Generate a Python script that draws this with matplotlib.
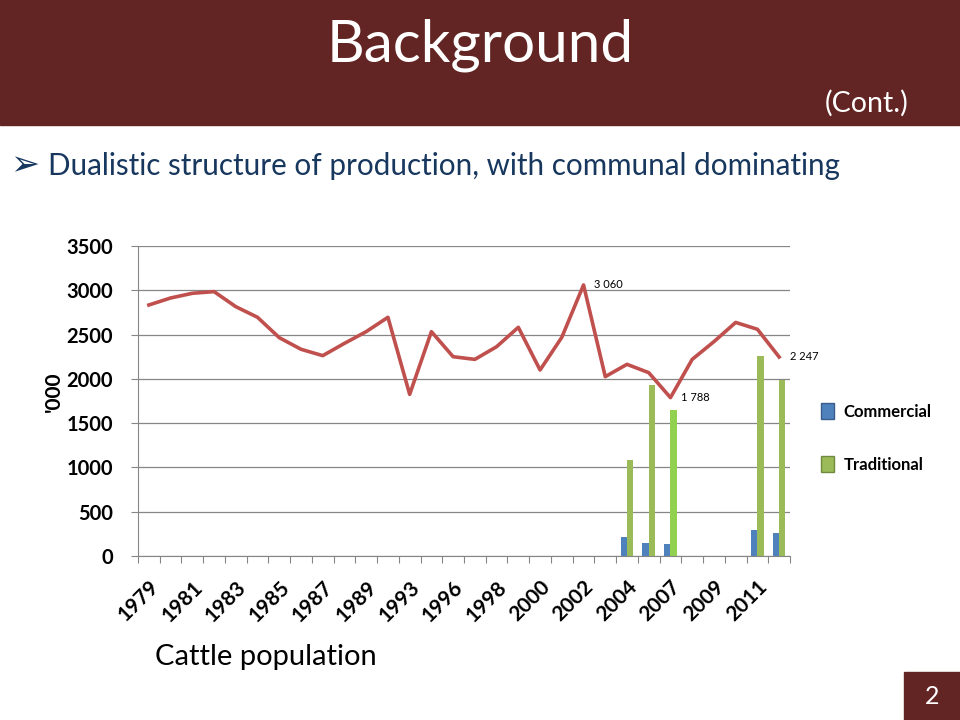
import numpy as np
import matplotlib.pyplot as plt
from matplotlib.patches import Rectangle, Patch

plt.rcParams['font.family'] = ['Lato', 'DejaVu Sans']

# --- Dane ---
years = ["1979", "1980", "1981", "1982", "1983", "1984", "1985", "1986", "1987", "1988",
         "1989", "1991", "1993", "1995", "1996", "1997", "1998", "1999", "2000", "2001",
         "2002", "2003", "2004", "2006", "2007", "2008", "2009", "2010", "2011", "2012"]
total = [2834, 2913, 2966, 2985, 2815, 2695, 2465, 2334, 2262, 2401,
         2533, 2695, 1825, 2533, 2250, 2220, 2363, 2582, 2100, 2469,
         3060, 2025, 2164, 2070, 1788, 2220, 2420, 2637, 2560, 2247]
bar_years = ["2004", "2006", "2007", "2011", "2012"]
commercial = [214, 151, 139, 294, 260]
traditional = [1084, 1931, 1648, 2258, 1987]
labelled = {"2002": "3 060", "2007": "1 788", "2012": "2 247"}

red = "#632523"
navy = "#17375E"

fig = plt.figure(figsize=(9.6, 7.2), dpi=100)

# --- Nagłówek ---
fig.patches.append(Rectangle((0, 1 - 125 / 720), 1, 125 / 720, transform=fig.transFigure,
                             color=red, zorder=0))
fig.text(0.5, 1 - 45 / 720, "Background", color="white", fontsize=42,
         ha="center", va="center")
fig.text(908 / 960, 1 - 103 / 720, "(Cont.)", color="white", fontsize=20.5,
         ha="right", va="center")
fig.text(10 / 960, 1 - 165 / 720, "➢", color=navy, fontsize=25, ha="left", va="center",
         family=["DejaVu Sans"])
fig.text(48 / 960, 1 - 166 / 720, "Dualistic structure of production, with communal dominating",
         color=navy, fontsize=21.3, ha="left", va="center")
fig.text(155 / 960, 1 - 657 / 720, "Cattle population", color="black", fontsize=21,
         ha="left", va="center")

# numer slajdu
fig.patches.append(Rectangle((904 / 960, 0), 56 / 960, 48 / 720, transform=fig.transFigure,
                             color=red, zorder=0))
fig.text(932 / 960, 24 / 720, "2", color="white", fontsize=18, ha="center", va="center")

# --- Wykres ---
ax = fig.add_axes([138 / 960, 1 - 556 / 720, 652 / 960, 310 / 720])
x = np.arange(len(years))
bx = np.array([years.index(y) for y in bar_years])
w = 0.29
ax.bar(bx - w / 2, commercial, width=w, color="#4F81BD", zorder=2)
green_cols = ["#9BBB59" if y != "2007" else "#92D050" for y in bar_years]
ax.bar(bx + w / 2, traditional, width=w, color=green_cols, zorder=2)
ax.plot(x, total, color="#C0504D", linewidth=2.6, zorder=3)

for y, txt in labelled.items():
    i = years.index(y)
    ax.annotate(txt, (i, total[i]), xytext=(7.5, 0), textcoords="offset points",
                fontsize=8, ha="left", va="center")

ax.set_xlim(-0.5, len(years) - 0.5)
ax.set_ylim(0, 3500)
ax.set_yticks(np.arange(0, 3501, 500))
ax.set_yticklabels([str(v) for v in range(0, 3501, 500)], fontsize=14.5, fontweight="bold")
ax.yaxis.grid(True, color="#868686", linewidth=0.9, zorder=0)
ax.set_axisbelow(True)

ax.set_xticks(np.arange(-0.5, len(years), 1))
ax.set_xticklabels([])
ax.set_xticks(x[::2], minor=True)
ax.set_xticklabels(years[::2], minor=True, rotation=45, ha="right", va="top",
                   rotation_mode="anchor", fontsize=15, fontweight="bold")
ax.tick_params(axis="x", which="minor", length=0, pad=15)
ax.tick_params(axis="x", which="major", length=5, color="#868686")
ax.tick_params(axis="y", length=5, color="#868686", pad=13)

for s in ["top", "right"]:
    ax.spines[s].set_visible(False)
for s in ["left", "bottom"]:
    ax.spines[s].set_color("#868686")

ax.set_ylabel("'000", fontsize=15, fontweight="bold", rotation=90)
ax.yaxis.set_label_coords(-0.114, 0.53)

handles = [Patch(facecolor="#4F81BD", edgecolor="#385D8A", label="Commercial"),
           Patch(facecolor="#9BBB59", edgecolor="#71893F", label="Traditional")]
fig.legend(handles=handles, loc="upper left", bbox_to_anchor=(806 / 960, 1 - 388 / 720),
           frameon=False, handlelength=0.75, handleheight=1.08, labelspacing=2.2,
           handletextpad=0.6, prop={"size": 12, "weight": "bold"})

fig.savefig("out.png", dpi=100)
